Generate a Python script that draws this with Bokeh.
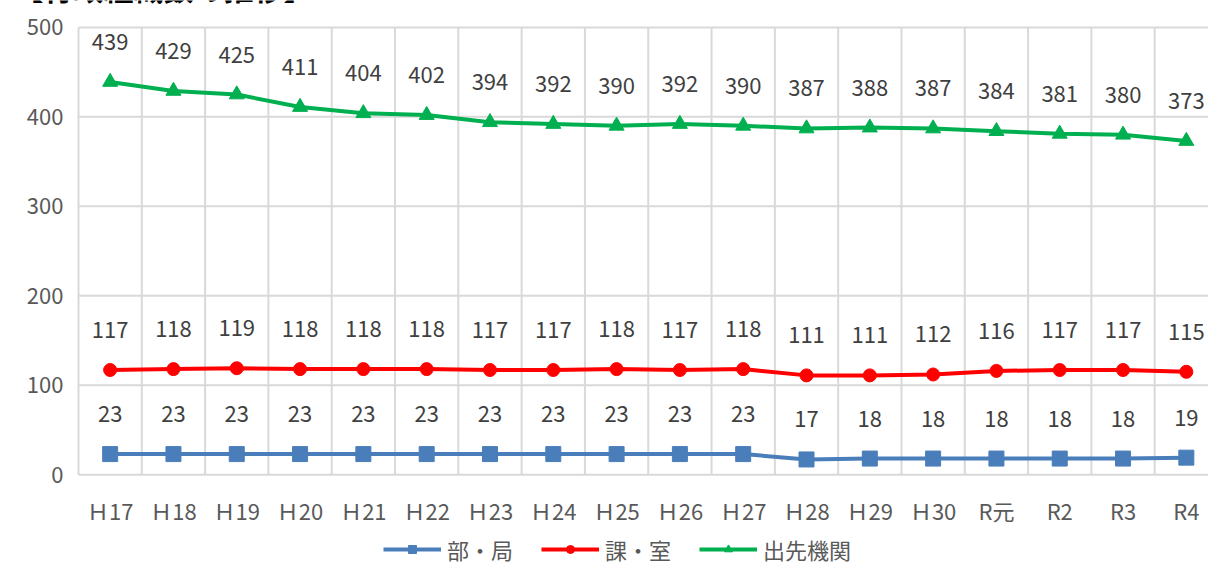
from bokeh.plotting import figure
from bokeh.models import ColumnDataSource, LabelSet, Legend, LegendItem, Label
from bokeh.core.properties import value
from bokeh.embed import file_html
from bokeh.resources import INLINE

categories = ["Ｈ17", "Ｈ18", "Ｈ19", "Ｈ20", "Ｈ21", "Ｈ22", "Ｈ23", "Ｈ24", "Ｈ25", "Ｈ26",
              "Ｈ27", "Ｈ28", "Ｈ29", "Ｈ30", "R元", "R2", "R3", "R4"]
bukyoku = [23, 23, 23, 23, 23, 23, 23, 23, 23, 23, 23, 17, 18, 18, 18, 18, 18, 19]
kashitsu = [117, 118, 119, 118, 118, 118, 117, 117, 118, 117, 118, 111, 111, 112, 116, 117, 117, 115]
desaki = [439, 429, 425, 411, 404, 402, 394, 392, 390, 392, 390, 387, 388, 387, 384, 381, 380, 373]
series_names = ["部・局", "課・室", "出先機関"]
title_text = "【行政組織数の推移】"
y_ticks = [0, 100, 200, 300, 400, 500]

FONT = "Noto Sans CJK JP"
GRID = "#d9d9d9"
xs = list(range(len(categories)))
n = len(categories)
X_START, X_END = -1.732, 17.35

# the frame covers the whole canvas so that title, tick labels and legend are all visible
p = figure(width=1208, height=562, output_backend="svg", toolbar_location=None,
           x_range=(X_START, X_END), y_range=(-98.2, 530.1),
           min_border_left=0, min_border_right=0, min_border_top=0, min_border_bottom=0)
p.outline_line_color = None
p.xaxis.visible = False
p.yaxis.visible = False
p.xgrid.visible = False
p.ygrid.visible = False

# horizontal grid lines at the y ticks, from the left edge of the plot area
p.segment(x0=[-0.5] * len(y_ticks), y0=y_ticks, x1=[X_END] * len(y_ticks), y1=y_ticks,
          line_color=GRID, line_width=2)
# vertical category separators between 0 and the top tick
bounds = [i - 0.5 for i in range(n + 1)]
p.segment(x0=bounds, y0=[y_ticks[0]] * len(bounds), x1=bounds, y1=[y_ticks[-1]] * len(bounds),
          line_color=GRID, line_width=2)

# y tick labels
ysrc = ColumnDataSource(dict(x=[-0.5] * len(y_ticks), y=y_ticks, t=[str(v) for v in y_ticks]))
p.add_layout(LabelSet(x="x", y="y", text="t", source=ysrc, x_offset=-15,
                      text_align="right", text_baseline="middle",
                      text_font=value(FONT), text_font_size=value("22px"),
                      text_color="#595959"))

src = ColumnDataSource(dict(x=xs, cat=categories, base=[y_ticks[0]] * n,
                            a=bukyoku, b=kashitsu, c=desaki,
                            at=[str(v) for v in bukyoku], bt=[str(v) for v in kashitsu],
                            ct=[str(v) for v in desaki]))

# category labels under the baseline
p.add_layout(LabelSet(x="x", y="base", text="cat", source=src, y_offset=-35,
                      text_align="center", text_baseline="middle",
                      text_font=value(FONT), text_font_size=value("22px"),
                      text_color="#595959"))

blue, red, green = "#4a7ebb", "#ff0000", "#00b050"
l1 = p.line("x", "a", source=src, line_color=blue, line_width=4)
m1 = p.scatter("x", "a", source=src, marker="square", size=15, fill_color=blue, line_color=blue)
l2 = p.line("x", "b", source=src, line_color=red, line_width=4)
m2 = p.scatter("x", "b", source=src, marker="circle", size=13, fill_color=red, line_color=red)
l3 = p.line("x", "c", source=src, line_color=green, line_width=4)
m3 = p.scatter("x", "c", source=src, marker="triangle", size=15, fill_color=green, line_color=green)

for col, tcol in (("a", "at"), ("b", "bt"), ("c", "ct")):
    p.add_layout(LabelSet(x="x", y=col, text=tcol, source=src, y_offset=40,
                          text_align="center", text_baseline="middle",
                          text_font=value(FONT), text_font_size=value("22px"),
                          text_color="#404040"))

legend = Legend(items=[LegendItem(label=series_names[0], renderers=[l1, m1]),
                       LegendItem(label=series_names[1], renderers=[l2, m2]),
                       LegendItem(label=series_names[2], renderers=[l3, m3])],
                location=(383, -3), orientation="horizontal",
                border_line_color=None, background_fill_alpha=0,
                padding=0, margin=0, spacing=28, label_standoff=6,
                glyph_width=58, glyph_height=20, label_height=20,
                label_text_font=FONT, label_text_font_size="22px", label_text_color="#595959")
p.add_layout(legend, "center")

p.add_layout(Label(x=-1.527, y=521, text=title_text, text_baseline="bottom",
                   text_font=FONT, text_font_size="30px", text_font_style="bold",
                   text_color="#000000"))

open("out.html", "w").write(file_html(p, INLINE))
